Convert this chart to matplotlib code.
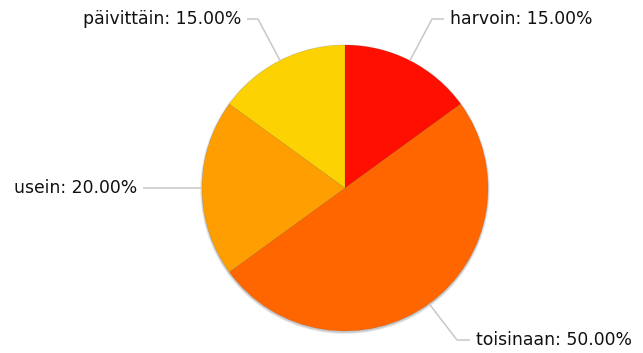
import matplotlib
matplotlib.use('Agg')
import matplotlib.pyplot as plt
from matplotlib.patches import Circle
import numpy as np

# Slice data, clockwise from 12 o'clock
labels = ['harvoin', 'toisinaan', 'usein', 'päivittäin']
shares = [15.0, 50.0, 20.0, 15.0]
colors = ['#FF0F00', '#FF6600', '#FF9E01', '#FCD202']

W, H = 643, 353
fig = plt.figure(figsize=(W / 100, H / 100), dpi=100)
ax = fig.add_axes([0, 0, 1, 1])

# work in pixel units, y pointing up
cx, cy, r = 345, H - 188, 143

# soft shadow under the pie
for i, a in enumerate([0.05, 0.07, 0.10]):
    ax.add_patch(Circle((cx, cy - 1.2), r + 2.0 - i * 0.7, color='#000000',
                        alpha=a, lw=0, zorder=1))

wedges, _ = ax.pie(shares, colors=colors, startangle=90, counterclock=False,
                   center=(cx, cy), radius=r,
                   wedgeprops=dict(linewidth=0.4, edgecolor='#00000022'))
for w in wedges:
    w.set_zorder(2)

# label placement: (elbow x, elbow y from top, text x, alignment)
layout = {
    'harvoin':    (432, 19, 444, 'left'),
    'toisinaan':  (457, 340, 470, 'left'),
    'usein':      (None, 188, 143, 'right'),
    'päivittäin': (258, 19, 247, 'right'),
}

cum = 0.0
total = sum(shares)
for name, val in zip(labels, shares):
    mid = cum + val / 2
    cum += val
    ang = np.deg2rad(90 - 360 * mid / total)
    px, py = cx + r * np.cos(ang), cy + r * np.sin(ang)
    ex, ey, tx, ha = layout[name]
    ey = H - ey
    if ex is None:
        xs, ys = [px, tx], [py, py]
        ty = py
    else:
        xs, ys = [px, ex, tx], [py, ey, ey]
        ty = ey
    ax.plot(xs, ys, color='#c8c8c8', lw=1.1, zorder=3, solid_capstyle='butt')
    pad = 6 if ha == 'left' else -6
    ax.text(tx + pad, ty, f'{name}: {val:.2f}%', ha=ha, va='center',
            fontsize=12.4, color='#111111', family='DejaVu Sans', zorder=4)

ax.set_xlim(0, W)
ax.set_ylim(0, H)
ax.set_aspect('equal')
ax.axis('off')

fig.savefig('out.png', dpi=100, facecolor='white')
